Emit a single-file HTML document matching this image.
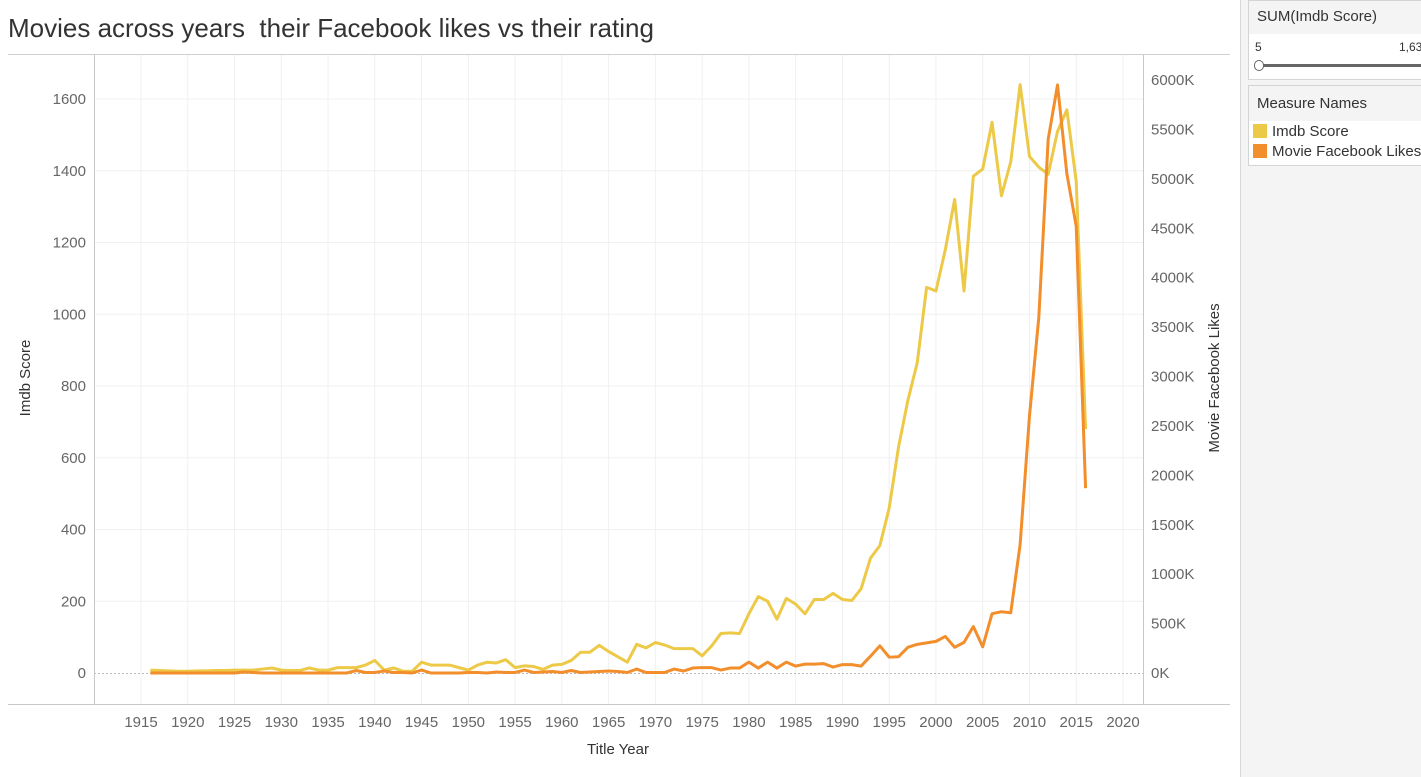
<!DOCTYPE html>
<html><head><meta charset="utf-8"><style>
body{margin:0;width:1421px;height:777px;overflow:hidden;background:#fff;font-family:"Liberation Sans",sans-serif;position:relative}
.t{position:absolute;white-space:nowrap}
</style></head><body>
<div class="t" style="left:8px;top:13px;font-size:26px;color:#333">Movies across years&nbsp; their Facebook likes vs their rating</div>
<div style="position:absolute;left:1240px;top:0;width:181px;height:777px;background:#f4f4f4;border-left:1px solid #d8d8d8">
 <div style="position:absolute;left:7px;top:0;width:180px;height:78px;border:1px solid #d4d4d4;background:#fff">
  <div style="background:#f4f4f4;height:33px;padding:7px 0 0 8px;box-sizing:border-box;font-size:15px;color:#333">SUM(Imdb Score)</div>
  <div class="t" style="left:6px;top:39px;font-size:12px;color:#333">5</div>
  <div class="t" style="left:150px;top:39px;font-size:12px;color:#333">1,63</div>
  <div style="position:absolute;left:10px;top:63px;width:180px;height:3px;background:#666"></div>
  <div style="position:absolute;left:5px;top:59px;width:8px;height:9px;border:1px solid #666;border-radius:5px;background:#fff"></div>
 </div>
 <div style="position:absolute;left:7px;top:85px;width:180px;height:79px;border:1px solid #d4d4d4;background:#fff">
  <div style="background:#f4f4f4;height:35px;padding:9px 0 0 8px;box-sizing:border-box;font-size:15px;color:#333">Measure Names</div>
  <div class="t" style="left:4px;top:37px;font-size:15px;color:#333"><span style="display:inline-block;width:14px;height:14px;background:#edc948;vertical-align:-2px;margin-right:5px"></span>Imdb Score</div>
  <div class="t" style="left:4px;top:57px;font-size:15px;color:#333"><span style="display:inline-block;width:14px;height:14px;background:#f28e2b;vertical-align:-2px;margin-right:5px"></span>Movie Facebook Likes</div>
 </div>
</div>
<svg id="chart" width="1240" height="777" style="position:absolute;left:0;top:0"></svg>
<script>
const imdb=[8,7,6,5,5,6,6,7,7,8,8,8,11,14,8,7,7,14,8,8,15,15,15,22,35,8,14,5,5,30,22,22,22,15,8,22,30,28,37,15,20,18,10,22,24,35,58,58,77,60,45,30,80,70,85,78,68,68,68,48,75,110,112,110,165,213,200,150,208,192,165,205,205,222,205,202,235,320,355,460,630,760,865,1075,1065,1180,1320,1065,1385,1405,1535,1330,1425,1640,1440,1410,1390,1510,1570,1370,680];
const fb=[0,0,0,0,0,0,0,0,0,0,10,5,0,0,0,0,0,0,0,0,0,0,25,5,5,20,5,5,0,30,0,0,0,0,5,5,0,10,5,5,30,5,10,15,5,25,5,10,15,20,15,5,40,5,5,5,40,20,50,55,55,30,50,50,110,50,110,50,110,70,90,90,95,60,85,85,70,170,275,160,165,260,290,305,320,370,260,310,470,265,600,620,610,1300,2600,3600,5400,5950,5050,4520,1870];
const lastYear=2016;
const leftTicks=[0,200,400,600,800,1000,1200,1400,1600];
const rightTicks=[0,500,1000,1500,2000,2500,3000,3500,4000,4500,5000,5500,6000];
const xTicks=[];for(let y=1915;y<=2020;y+=5)xTicks.push(y);
const X=y=>141+(y-1915)*(982/105);
const YL=v=>673-v*(574/1600);
const YR=v=>673-v*(593/6000);
const svg=document.getElementById('chart');const NS='http://www.w3.org/2000/svg';
function mk(t,a,p){const e=document.createElementNS(NS,t);for(const k in a)e.setAttribute(k,a[k]);(p||svg).appendChild(e);return e;}
mk('line',{x1:8,x2:1230,y1:54.5,y2:54.5,stroke:'#d0d0d0'});
const grid=mk('g',{});
xTicks.forEach(t=>{mk('line',{x1:X(t),x2:X(t),y1:55,y2:704,stroke:'#f0f0f0'},grid);});
leftTicks.forEach(t=>{if(t>0)mk('line',{x1:94,x2:1143,y1:YL(t),y2:YL(t),stroke:'#f0f0f0'},grid);});
mk('line',{x1:94,x2:1143,y1:673.5,y2:673.5,stroke:'#b8b8b8','stroke-dasharray':'2,2'});
mk('line',{x1:94.5,x2:94.5,y1:55,y2:704,stroke:'#c8c8c8'});
mk('line',{x1:1143.5,x2:1143.5,y1:55,y2:704,stroke:'#c8c8c8'});
mk('line',{x1:8,x2:1230,y1:704.5,y2:704.5,stroke:'#c8c8c8'});
leftTicks.forEach(t=>{const e=mk('text',{x:86,y:YL(t)+5,'text-anchor':'end','font-size':15,fill:'#666'});e.textContent=t;

});
rightTicks.forEach(t=>{const e=mk('text',{x:1151,y:YR(t)+5,'font-size':15,fill:'#666'});e.textContent=t+'K';

});
xTicks.forEach(t=>{const e=mk('text',{x:X(t),y:727,'text-anchor':'middle','font-size':15,fill:'#666'});e.textContent=t;

});
let e=mk('text',{x:618,y:754,'text-anchor':'middle','font-size':15,fill:'#333'});e.textContent='Title Year';


e=mk('text',{x:0,y:0,transform:'translate(30,378) rotate(-90)','text-anchor':'middle','font-size':15,fill:'#333'});e.textContent='Imdb Score';


e=mk('text',{x:0,y:0,transform:'translate(1219,378) rotate(-90)','text-anchor':'middle','font-size':15,fill:'#333'});e.textContent='Movie Facebook Likes';


const yr=(arr,i)=>lastYear-(arr.length-1-i);
let p=mk('polyline',{points:imdb.map((v,i)=>X(yr(imdb,i))+','+YL(v)).join(' '),fill:'none',stroke:'#edc948','stroke-width':3,'stroke-linejoin':'round'});


p=mk('polyline',{points:fb.map((v,i)=>X(yr(fb,i))+','+YR(v)).join(' '),fill:'none',stroke:'#f28e2b','stroke-width':3,'stroke-linejoin':'round'});


</script>
</body></html>
